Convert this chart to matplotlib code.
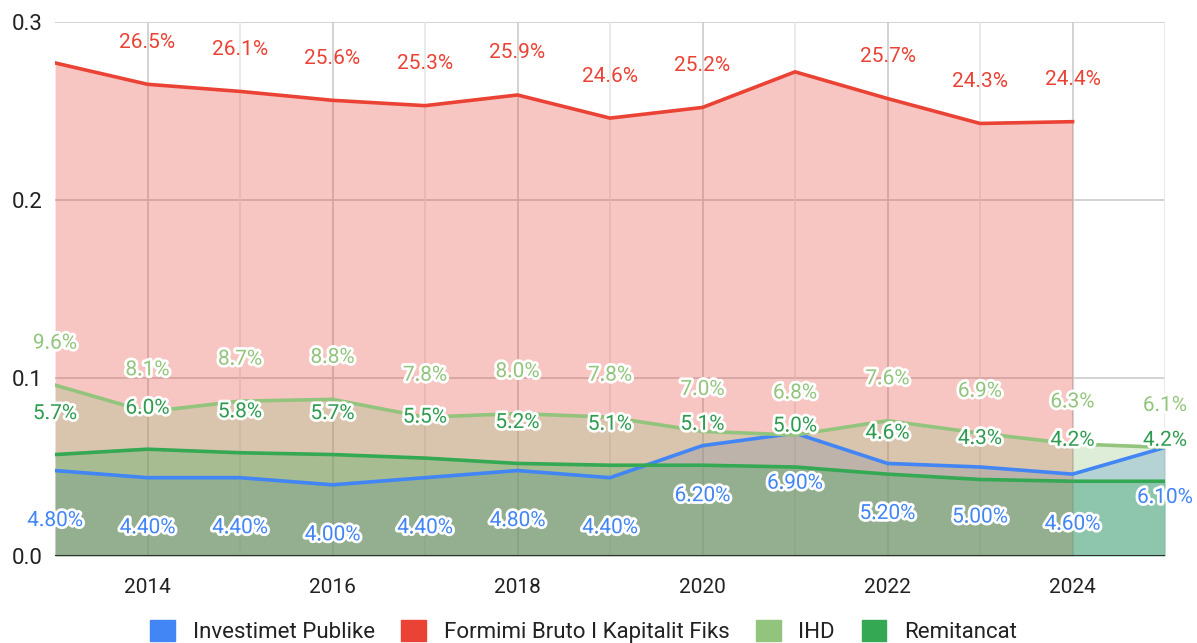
import matplotlib
matplotlib.use("Agg")
import matplotlib.pyplot as plt
import matplotlib.patheffects as pe
from matplotlib.patches import Patch

plt.rcParams['font.family'] = ['Roboto', 'DejaVu Sans']

years = [2013, 2014, 2015, 2016, 2017, 2018, 2019, 2020, 2021, 2022, 2023, 2024, 2025]
investimet_publike = [0.048, 0.044, 0.044, 0.040, 0.044, 0.048, 0.044, 0.062, 0.069, 0.052, 0.050, 0.046, 0.061]
formimi_bruto = [0.277, 0.265, 0.261, 0.256, 0.253, 0.259, 0.246, 0.252, 0.272, 0.257, 0.243, 0.244]
ihd = [0.096, 0.081, 0.087, 0.088, 0.078, 0.080, 0.078, 0.070, 0.068, 0.076, 0.069, 0.063, 0.061]
remitancat = [0.057, 0.060, 0.058, 0.057, 0.055, 0.052, 0.051, 0.051, 0.050, 0.046, 0.043, 0.042, 0.042]
# red labels hidden by the chart at 2013 and 2021
formimi_label_shown = [False, True, True, True, True, True, True, True, False, True, True, True]

names = ["Investimet Publike", "Formimi Bruto I Kapitalit Fiks", "IHD", "Remitancat"]
colors = ["#4285f4", "#ea4335", "#93c47d", "#34a853"]
yticks = [0.0, 0.1, 0.2, 0.3]
ytick_labels = ["0.0", "0.1", "0.2", "0.3"]
xticks = [2014, 2016, 2018, 2020, 2022, 2024]

fig = plt.figure(figsize=(11.97, 6.43), dpi=100)
ax = fig.add_axes([0.046, 0.1353, 0.9273, 0.8305])

series = [
    (years, investimet_publike),
    (years[:len(formimi_bruto)], formimi_bruto),
    (years, ihd),
    (years, remitancat),
]

# grid
for y in yticks[1:]:
    ax.axhline(y, color="#cccccc", lw=1.2, zorder=0)
for yr in range(2014, 2026):
    ax.axvline(yr, color="#cccccc" if yr % 2 == 0 else "#e6e6e6", lw=1.2, zorder=0)

for (xs, ys), c in zip(series, colors):
    ax.fill_between(xs, 0, ys, color=c, alpha=0.3, lw=0, zorder=1)
for (xs, ys), c in zip(series, colors):
    ax.plot(xs, ys, color=c, lw=2.6, zorder=3, solid_joinstyle="round")

ax.axhline(0, color="#333333", lw=1.5, zorder=4)

halo = [pe.withStroke(linewidth=4, foreground="white")]
fs = 15

# red labels
for x, v, show in zip(years, formimi_bruto, formimi_label_shown):
    if show:
        ax.annotate(f"{v*100:.1f}%", (x, v), xytext=(0, 42), textcoords="offset pixels",
                    ha="center", va="center", color=colors[1], fontsize=fs, zorder=6)
# IHD labels
for x, v in zip(years, ihd):
    ax.annotate(f"{v*100:.1f}%", (x, v), xytext=(0, 42), textcoords="offset pixels",
                ha="center", va="center", color=colors[2], fontsize=fs, zorder=6,
                path_effects=halo)
# Remitancat labels
for x, v in zip(years, remitancat):
    ax.annotate(f"{v*100:.1f}%", (x, v), xytext=(0, 41), textcoords="offset pixels",
                ha="center", va="center", color="#2e9b4f", fontsize=fs, zorder=6,
                path_effects=halo)
# Investimet labels
for x, v in zip(years, investimet_publike):
    ax.annotate(f"{v*100:.2f}%", (x, v), xytext=(0, -50), textcoords="offset pixels",
                ha="center", va="center", color=colors[0], fontsize=fs, zorder=6,
                path_effects=halo)

ax.set_xlim(2013, 2025)
ax.set_ylim(0, 0.3)
ax.set_yticks(yticks)
ax.set_yticklabels(ytick_labels, fontsize=16, color="#222222")
ax.set_xticks(xticks)
ax.set_xticklabels([str(x) for x in xticks], fontsize=15, color="#222222")
ax.tick_params(length=0)
ax.tick_params(axis="x", pad=16)
ax.tick_params(axis="y", pad=9)
for s in ax.spines.values():
    s.set_visible(False)
ax.set_facecolor("white")

handles = [Patch(facecolor=c, edgecolor=c) for c in colors]
fig.legend(handles, names, loc="center", bbox_to_anchor=(0.4875, 0.018), ncol=4,
           frameon=False, fontsize=16, handlelength=1.1, handleheight=1.1,
           columnspacing=1.2, handletextpad=0.8, labelcolor="#222222")

fig.savefig("out.png", dpi=100, facecolor="white")
